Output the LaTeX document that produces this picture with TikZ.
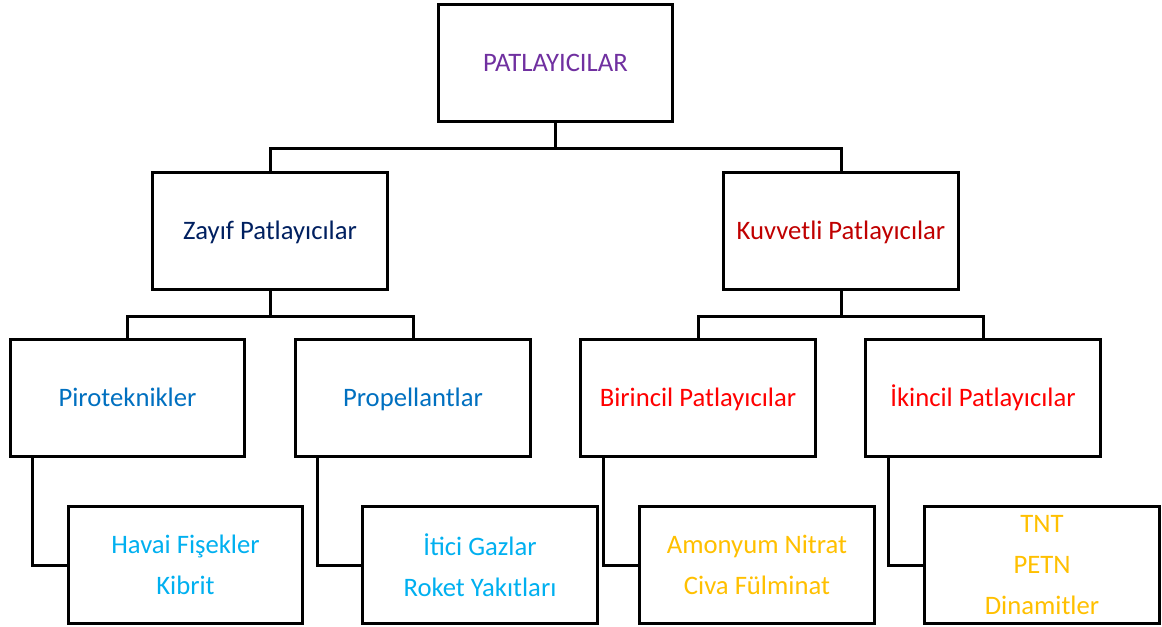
\documentclass[tikz,border=0pt]{standalone}
\usepackage{fontspec}
\setmainfont{Carlito}
\usetikzlibrary{calc}
\definecolor{mor}{HTML}{7030A0}
\definecolor{lacivert}{HTML}{002060}
\definecolor{koyukirmizi}{HTML}{C00000}
\definecolor{mavi}{HTML}{0070C0}
\definecolor{kirmizi}{HTML}{FF0000}
\definecolor{acikmavi}{HTML}{00B0F0}
\definecolor{altin}{HTML}{FFC000}
\tikzset{kutu/.style={draw=black,line width=2.25pt,fill=white,minimum width=176pt,minimum height=88pt,inner sep=0pt,align=center,font=\fontsize{20}{30.75}\selectfont},
tek/.style={kutu,text height=16pt,text depth=3pt},
hat/.style={line width=2.25pt}}
\begin{document}
\begin{tikzpicture}[x=0.75pt,y=-0.75pt]
    \useasboundingbox (0,0) rectangle (1162,627);
    \node[tek,text=mor] (pat) at (555.5,63) {PATLAYICILAR};
    \node[tek,text=lacivert] (zayif) at (270,231) {Zayıf Patlayıcılar};
    \node[tek,text=koyukirmizi] (kuvvet) at (841,231) {Kuvvetli Patlayıcılar};
    \node[tek,text=mavi] (piro) at (127.5,398) {Piroteknikler};
    \node[tek,text=mavi] (prop) at (413,398) {Propellantlar};
    \node[tek,text=kirmizi] (bir) at (698,398) {Birincil Patlayıcılar};
    \node[tek,text=kirmizi] (iki) at (983,398) {İkincil Patlayıcılar};
    \draw[hat] (pat.south) -- ++(0,25) -| (zayif.north);
    \draw[hat] (pat.south) -- ++(0,25) -| (kuvvet.north);
    \draw[hat] (zayif.south) -- ++(0,25) -| (piro.north);
    \draw[hat] (zayif.south) -- ++(0,25) -| (prop.north);
    \draw[hat] (kuvvet.south) -- ++(0,25) -| (bir.north);
    \draw[hat] (kuvvet.south) -- ++(0,25) -| (iki.north);
    \node[kutu,text=acikmavi] (havai) at (185.5,565) {Havai Fişekler\\Kibrit};
    \node[kutu,text=acikmavi] (itici) at (480,565) {İtici Gazlar\\Roket Yakıtları};
    \node[kutu,text=altin] (amon) at (757,565) {Amonyum Nitrat\\Civa Fülminat};
    \node[kutu,text=altin] (tnt) at (1042,565) {TNT\\PETN\\Dinamitler};
    \draw[hat] ($(piro.south west)+(24,0)$) |- (havai.west);
    \draw[hat] ($(prop.south west)+(23,0)$) |- (itici.west);
    \draw[hat] ($(bir.south west)+(24,0)$) |- (amon.west);
    \draw[hat] ($(iki.south west)+(24,0)$) |- (tnt.west);
\end{tikzpicture}
\end{document}
